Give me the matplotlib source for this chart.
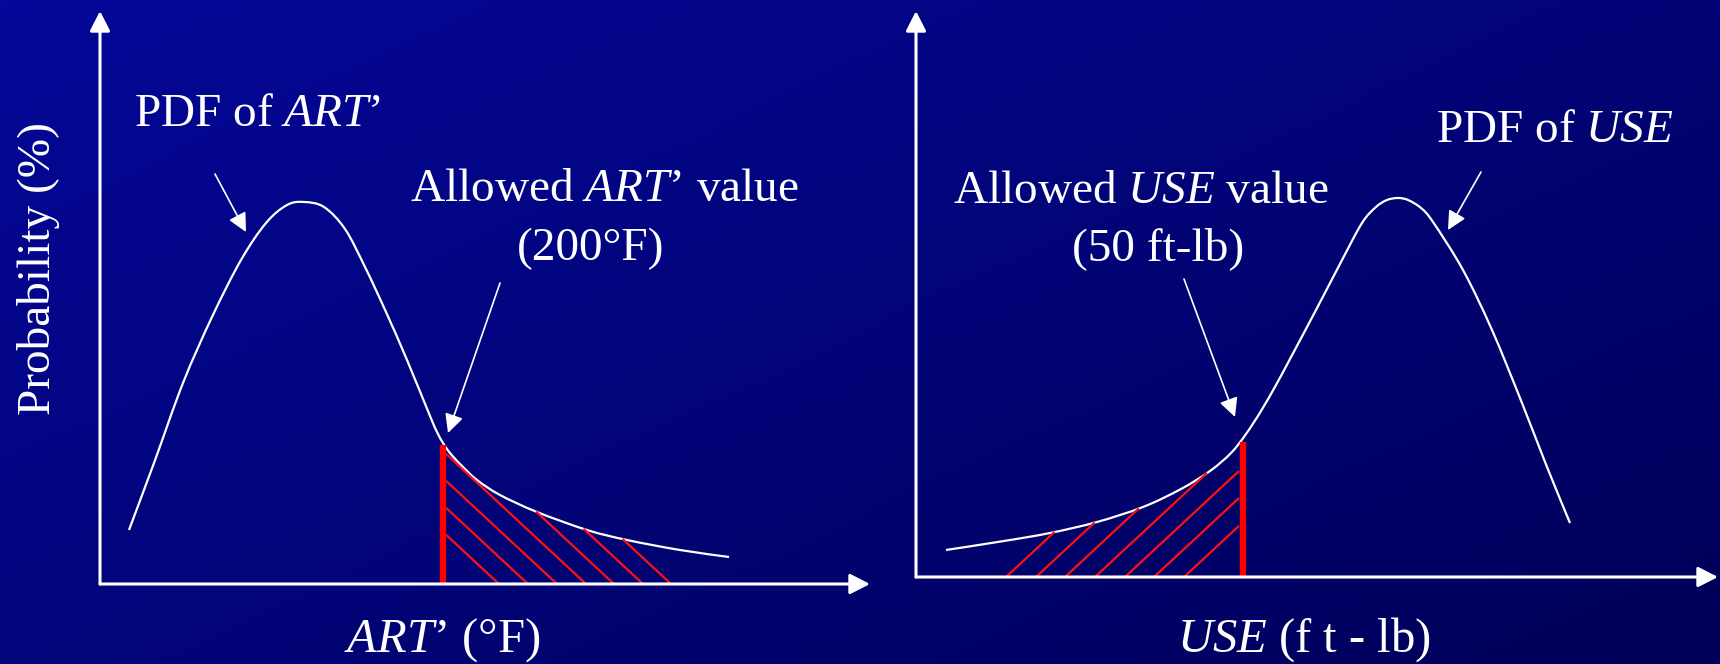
import numpy as np
import matplotlib
matplotlib.use("Agg")
import matplotlib.pyplot as plt
from matplotlib.collections import LineCollection
from matplotlib.path import Path
from matplotlib.patches import PathPatch

# fonts: Times-like serif, italic variable names via mathtext
plt.rcParams['font.family'] = ['Liberation Serif', 'DejaVu Serif']
plt.rcParams['mathtext.fontset'] = 'custom'
plt.rcParams['mathtext.rm'] = 'Liberation Serif'
plt.rcParams['mathtext.it'] = 'Liberation Serif:italic'

# ---- data (axis units = pixels from the origin) ----
art_x = [29, 54, 83, 112, 141, 166, 187, 204, 224, 245, 265, 286, 307, 330,
         337, 343, 350, 361, 377, 400, 437, 487, 527, 580, 629]
art_pdf = [54, 121, 201, 267, 324, 361, 379, 382, 377, 355, 317, 272, 224, 168,
           152, 141, 131, 119, 104, 89, 72, 54, 44, 34, 27]
art_allowed_x = 343
art_allowed_h = 139
art_hatch_x = [399, 428, 457, 486, 514, 543, 571]

use_x = [30, 88, 134, 181, 227, 265, 294, 315, 330, 345, 360, 374, 400, 425,
         446, 460, 471, 482, 492, 505, 517, 547, 576, 606, 631, 654]
use_pdf = [27, 36, 44, 55, 70, 88, 106, 124, 143, 166, 192, 218, 267, 315,
           354, 370, 377, 379, 377, 369, 355, 307, 247, 174, 110, 54]
use_allowed_x = 327
use_allowed_h = 135
use_hatch_x = [90, 120, 149, 179, 209, 238, 268]

W, H = 1720, 664
fig = plt.figure(figsize=(W / 100, H / 100), dpi=100)

# background gradient (slide template)
bg = fig.add_axes([0, 0, 1, 1])
gx, gy = np.meshgrid(np.linspace(0, 1, 200), np.linspace(0, 1, 80))
t = np.clip(0.55 * gx + 0.45 * gy, 0, 1)
c0 = np.array([4, 8, 152]) / 255
c1 = np.array([0, 0, 88]) / 255
img = c0[None, None, :] * (1 - t[..., None]) + c1[None, None, :] * t[..., None]
bg.imshow(img, extent=[0, 1, 0, 1], aspect='auto', origin='upper')
bg.set_axis_off()


def smooth_path(xs, ys):
    # cubic bezier through the read points (catmull-rom style handles)
    p = np.column_stack([xs, ys]).astype(float)
    verts = [p[0]]
    codes = [Path.MOVETO]
    n = len(p)
    for i in range(n - 1):
        p0 = p[i - 1] if i > 0 else p[i]
        p3 = p[i + 2] if i + 2 < n else p[i + 1]
        verts += [p[i] + (p[i + 1] - p0) / 6, p[i + 1] - (p3 - p[i]) / 6, p[i + 1]]
        codes += [Path.CURVE4] * 3
    return Path(verts, codes)


def panel(rect, xs, ys, allowed_x, allowed_h, hatch_x, direction, stop_x):
    ax = fig.add_axes(rect)
    ax.patch.set_alpha(0)
    ax.set_xlim(0, rect[2] * W)
    ax.set_ylim(0, rect[3] * H)
    ax.set_axis_off()
    head = dict(arrowstyle='-|>,head_length=0.55,head_width=0.28', color='white',
                lw=2.2, mutation_scale=22, shrinkA=0, shrinkB=0)
    ax.annotate('', xy=(1, 0), xytext=(0, 0), xycoords='axes fraction', arrowprops=head)
    ax.annotate('', xy=(0, 1), xytext=(0, 0), xycoords='axes fraction', arrowprops=head)
    ax.add_patch(PathPatch(smooth_path(xs, ys), fill=False, edgecolor='white', lw=1.6))
    # hatch lines from the x axis up to the curve / allowed value line
    k = 0.93
    tt = np.linspace(0, 300, 3001)
    segs = []
    for xb in hatch_x:
        hx = xb + direction * tt
        hy = k * tt
        cap = np.interp(hx, xs, ys)
        hit = (hy >= cap) | (direction * (hx - stop_x) >= 0)
        i = np.argmax(hit)
        segs.append([(xb, 0), (hx[i], hy[i])])
    ax.add_collection(LineCollection(segs, colors='#ff1010', linewidths=1.6))
    ax.vlines(allowed_x, 0, allowed_h, color='#ff0000', lw=4.5)
    return ax


ax1 = panel([100 / W, (H - 584) / H, 770 / W, 573 / H], art_x, art_pdf,
            art_allowed_x, art_allowed_h, art_hatch_x, -1, art_allowed_x + 3)
ax2 = panel([916 / W, (H - 577) / H, 802 / W, 566 / H], use_x, use_pdf,
            use_allowed_x, use_allowed_h, use_hatch_x, 1, use_allowed_x - 4)

fs = 34
small = dict(arrowstyle='-|>,head_length=0.6,head_width=0.3', color='white',
             lw=1.2, mutation_scale=19, shrinkA=0, shrinkB=0)

# left panel annotations
ax1.text(34, 458, "PDF of $\\mathit{ART}$\u2019", color='white', fontsize=fs,
         ha='left', va='baseline')
ax1.text(504, 383, "Allowed $\\mathit{ART}$\u2019 value", color='white', fontsize=fs,
         ha='center', va='baseline')
ax1.text(491, 324, "(200\u00b0F)", color='white', fontsize=fs, ha='center', va='baseline')
ax1.annotate('', xy=(146, 352), xytext=(115, 410), arrowprops=small)
ax1.annotate('', xy=(348, 151), xytext=(400, 301), arrowprops=small)

# right panel annotations
ax2.text(520, 435, "PDF of $\\mathit{USE}$", color='white', fontsize=fs,
         ha='left', va='baseline')
ax2.text(225, 374, "Allowed $\\mathit{USE}$ value", color='white', fontsize=fs,
         ha='center', va='baseline')
ax2.text(242, 317, "(50 ft-lb)", color='white', fontsize=fs, ha='center', va='baseline')
ax2.annotate('', xy=(532, 347), xytext=(565, 405), arrowprops=small)
ax2.annotate('', xy=(319, 160), xytext=(268, 298), arrowprops=small)

# axis titles
fig.text(39 / W, 1 - 269 / H, "Probability (%)", color='white', fontsize=fs,
         rotation=90, ha='center', va='center')
fig.text(442 / W, 1 - 652 / H, "$\\mathit{ART}$\u2019 (\u00b0F)", color='white',
         fontsize=35, ha='center', va='baseline')
fig.text(1304 / W, 1 - 652 / H, "$\\mathit{USE}$ (f t - lb)", color='white',
         fontsize=35, ha='center', va='baseline')

fig.savefig('out.png', dpi=100)
